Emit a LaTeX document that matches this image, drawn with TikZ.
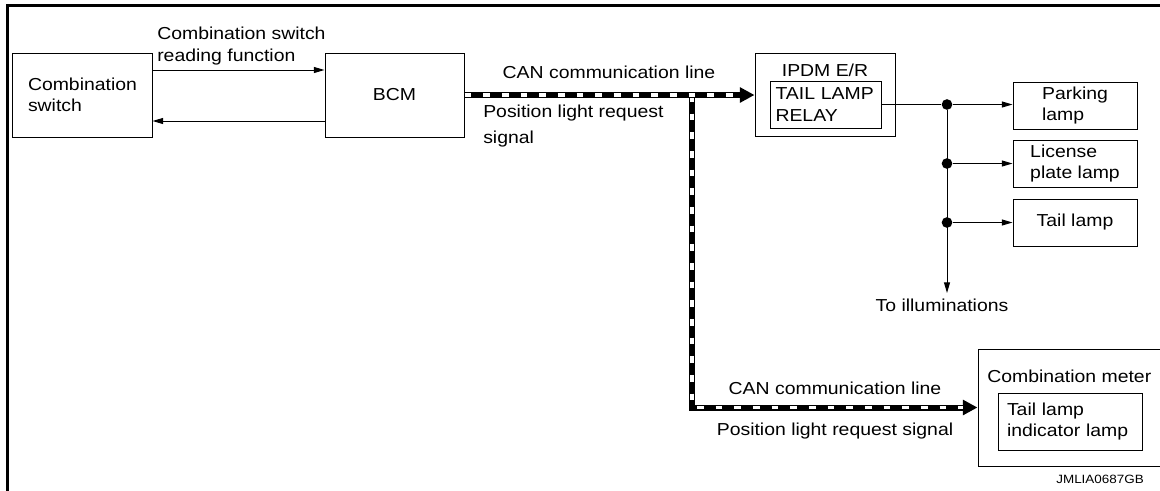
\documentclass[tikz,border=0pt]{standalone}
\usepackage{fontspec}
\setmainfont{Liberation Sans}[FakeStretch=1.12]
\usetikzlibrary{arrows.meta}

\begin{document}
\begin{tikzpicture}[x=0.75pt,y=-0.75pt,>={Triangle[length=8pt,width=4.5pt]},
  font=\fontsize{13}{16}\selectfont,
  box/.style={draw,line width=0.75pt,inner sep=0pt,minimum height=35.25pt},
  lbox/.style={box,align=left,inner xsep=12pt,text width=81pt},
  wire/.style={line width=0.75pt},
  canline/.style={line width=4.5pt,-{Triangle[length=11pt,width=11pt]},
    postaction={draw=white,line width=2.8pt,dash pattern=on 5pt off 9pt,-,shorten >=11pt}},
  dot/.style={circle,fill,inner sep=0pt,minimum size=8pt}]
  \clip (0,0) rectangle (1160,490);
  \draw[line width=2.25pt] (7.5,495) -- (7.5,5.5) -- (1165,5.5);
  % boxes
  \node[lbox,minimum height=63pt] (cswitch) at (82,95) {Combination\\switch};
  \node[box,minimum width=104.25pt,minimum height=63pt] (bcm) at (394.5,95) {BCM};
  \node[box,minimum width=105pt,minimum height=62.25pt] (ipdm) at (825,94.5) {};
  \node[anchor=base,inner sep=0pt] (ipdmname) at (825,76) {IPDM E/R};
  \node[box,align=left,text width=75pt,inner xsep=4.125pt] (relay) at (825.5,104.5) {TAIL LAMP\\RELAY};
  \node[box,minimum width=93pt,align=left] (parking) at (1075,105.5) {Parking\\lamp};
  \node[box,minimum width=93pt,align=left] (license) at (1075,163.5) {License\\plate lamp};
  \node[box,minimum width=93pt] (taillamp) at (1075,222.5) {Tail lamp};
  \node[box,minimum width=145.5pt,minimum height=87.75pt] (meter) at (1075,407.5) {};
  \node[anchor=base west,inner sep=0pt] (metername) at (987,382) {Combination meter};
  \node[box,align=left,text width=94.5pt,inner xsep=6.75pt,minimum height=42.75pt] (indicator) at (1070,421.5) {Tail lamp\\indicator lamp};
  % switch <-> BCM
  \draw[wire,->] ([yshift=18.75pt]cswitch.east) -- ([yshift=18.75pt]bcm.west);
  \draw[wire,->] ([yshift=-19.5pt]bcm.west) -- ([yshift=-19.5pt]cswitch.east);
  \node[anchor=north west,inner sep=0pt,align=left] (readlabel) at (157,27) {Combination switch\\reading function};
  % CAN lines
  \coordinate (tap) at (692,95);
  \draw[canline] (tap) |- (meter.west);
  \draw[canline] (bcm.east) -- (bcm.east -| ipdm.west);
  \node[anchor=base,inner sep=0pt] (canupper) at (609,78) {CAN communication line};
  \node[anchor=north west,inner sep=0pt,align=left,font=\fontsize{13}{19}\selectfont] (posupper) at (483,105) {Position light request\\signal};
  \node[anchor=base,inner sep=0pt] (canlower) at (835,394) {CAN communication line};
  \node[anchor=base,inner sep=0pt] (poslower) at (835,435) {Position light request signal};
  % lamp wiring
  \node[dot] (split1) at (947,104.5) {};
  \node[dot] (split2) at (947,163.5) {};
  \node[dot] (split3) at (947,222.5) {};
  \coordinate (illum) at (947,293);
  \draw[wire] (relay.east) -- (split1);
  \draw[wire,->] (split1) -- (split1 -| parking.west);
  \draw[wire,->] (split2) -- (license.west);
  \draw[wire,->] (split3) -- (taillamp.west);
  \draw[wire,->] (split1) -- (illum);
  \node[anchor=base,inner sep=0pt] (illumtext) at (942,311) {To illuminations};
  \node[anchor=base east,inner sep=0pt,font=\fontsize{9}{11}\selectfont] (figid) at (1144,483) {JMLIA0687GB};
\end{tikzpicture}
\end{document}
